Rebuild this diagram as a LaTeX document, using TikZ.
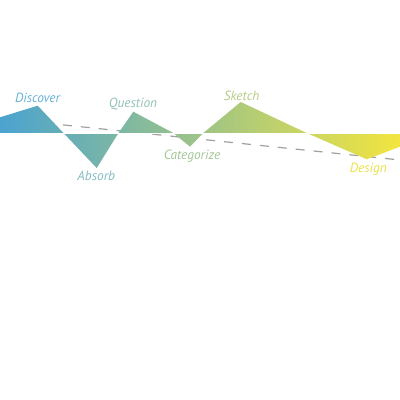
\documentclass[tikz,border=0pt]{standalone}
\usepackage{fontspec}
\setmainfont{PT Sans}
\definecolor{discoverblue}{HTML}{4BA3CF}
\definecolor{midgreen}{HTML}{9FC291}
\definecolor{designyellow}{HTML}{F2E53F}
\definecolor{dashgray}{HTML}{A0A0A0}
\tikzset{every picture/.style={line width=0.75pt}}
\tikzset{label text/.style={font=\itshape\fontsize{10}{12}\selectfont, anchor=base, inner sep=0pt}}

\begin{document}
\begin{tikzpicture}[x=0.75pt,y=0.75pt,yscale=-1,xscale=1]
	\useasboundingbox (0,0) rectangle (400,400);

	%Straight Lines [id:dashed trend]
	\coordinate (trendstart) at (45,123);
	\coordinate (trendend) at (400,160);
	\draw [color=dashgray, line width=0.9] [dash pattern={on 6.75pt off 6.75pt}] (trendstart) -- (trendend) ;

	%Shape: Zigzag band
	\shade [left color=discoverblue, middle color=midgreen, right color=designyellow]
		(0,133) -- (0,117.3) -- (37.7,105.7) -- (63.5,133) -- (96.7,168) -- (118.5,133) -- (133.3,111.7) -- (173.3,133) -- (190,146.7) -- (203.3,133) -- (240.7,102) -- (306.7,133) -- (366.7,159.3) -- (400,146.7) -- (400,133) -- cycle ;
	%Straight Lines [id:baseline]
	\draw [color=white, line width=0.6] (0,133.2) -- (400,133.2) ;

	% Text Node
	\node [label text, text=discoverblue!85!white] (discover) at (37.5,102.3) {Discover};
	% Text Node
	\node [label text, text=discoverblue!60!midgreen!85!white] (absorb) at (96.3,180.7) {Absorb};
	% Text Node
	\node [label text, text=discoverblue!40!midgreen!85!white] (question) at (133,107.3) {Question};
	% Text Node
	\node [label text, text=midgreen!95!white] (categorize) at (192,159.3) {Categorize};
	% Text Node
	\node [label text, text=midgreen!80!designyellow!95!white] (sketch) at (241.7,100) {Sketch};
	% Text Node
	\node [label text, text=designyellow!90!midgreen] (design) at (368.3,172) {Design};

\end{tikzpicture}
\end{document}
